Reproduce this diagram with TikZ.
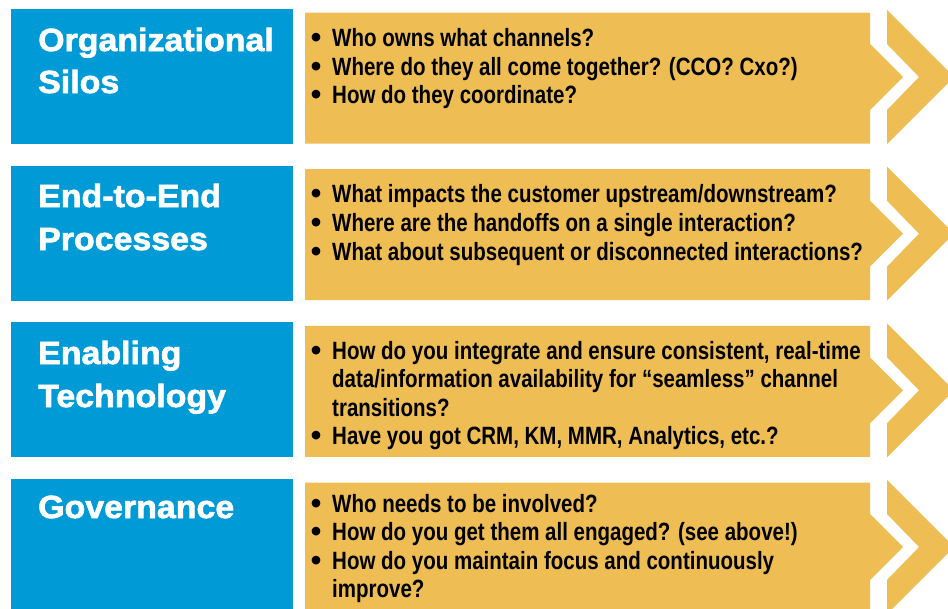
\documentclass[tikz,border=0pt]{standalone}
\usepackage{fontspec}
\setmainfont{Liberation Sans}
\newfontfamily\headfont[FakeStretch=1.06,FakeBold=2]{Liberation Sans}
\newfontfamily\itemfont[FakeStretch=0.82]{Liberation Sans}
\definecolor{panelblue}{HTML}{009BD7}
\definecolor{panelgold}{HTML}{EEBD53}
\tikzset{
  head/.style={font=\headfont\bfseries\fontsize{32}{42}\selectfont, text=white, anchor=base west, inner sep=0pt},
  item/.style={font=\itemfont\bfseries\fontsize{25}{29}\selectfont, text=black, anchor=base west, inner sep=0pt},
  dot/.style={font=\bfseries\fontsize{30}{29}\selectfont, text=black, anchor=base, inner sep=0pt},
  bluepanel/.style={fill=panelblue},
  goldpanel/.style={fill=panelgold}
}
\begin{document}
\begin{tikzpicture}[x=1pt,y=-1pt]
\useasboundingbox (0,0) rectangle (948,608);
\clip (0,0) rectangle (948,608);

% four bands: blue title box, gold arrow box, gold chevron
\foreach \cy in {77,233.7,390.3,547}{
  \fill[bluepanel] (11,\cy-68) rectangle (293,\cy+67);
  \fill[goldpanel] (305,\cy-64.5) -- (870,\cy-64.5) -- (870,\cy-33) -- (903,\cy)
     -- (870,\cy+33) -- (870,\cy+66.5) -- (305,\cy+66.5) -- cycle;
  \fill[goldpanel] (887,\cy-67) -- (954,\cy) -- (887,\cy+67) -- (887,\cy+33)
     -- (919,\cy) -- (887,\cy-33) -- cycle;
}

% titles
\node[head] (t1a) at (38,51) {Organizational};
\node[head] (t1b) at (38,93) {Silos};
\node[head] (t2a) at (38,207) {End-to-End};
\node[head] (t2b) at (38,250) {Processes};
\node[head] (t3a) at (38,364) {Enabling};
\node[head] (t3b) at (38,407) {Technology};
\node[head] (t4a) at (38,518) {Governance};

% questions
\node[dot] (d1a) at (316,47) {•};
\node[item] (q1a) at (332,46) {Who owns what channels?};
\node[dot] (d1b) at (316,76) {•};
\node[item] (q1b) at (332,75) {Where do they all come together? (CCO? Cxo?)};
\node[dot] (d1c) at (316,104.5) {•};
\node[item] (q1c) at (332,103.5) {How do they coordinate?};

\node[dot] (d2a) at (316,203) {•};
\node[item] (q2a) at (332,202) {What impacts the customer upstream/downstream?};
\node[dot] (d2b) at (316,232) {•};
\node[item] (q2b) at (332,231) {Where are the handoffs on a single interaction?};
\node[dot] (d2c) at (316,261) {•};
\node[item] (q2c) at (332,260) {What about subsequent or disconnected interactions?};

\node[dot] (d3a) at (316,360) {•};
\node[item] (q3a) at (332,359) {How do you integrate and ensure consistent, real-time};
\node[item] (q3b) at (332,387.5) {data/information availability for “seamless” channel};
\node[item] (q3c) at (332,416) {transitions?};
\node[dot] (d3d) at (316,445) {•};
\node[item] (q3d) at (332,444) {Have you got CRM, KM, MMR, Analytics, etc.?};

\node[dot] (d4a) at (316,513) {•};
\node[item] (q4a) at (332,512) {Who needs to be involved?};
\node[dot] (d4b) at (316,541.5) {•};
\node[item] (q4b) at (332,540.5) {How do you get them all engaged? (see above!)};
\node[dot] (d4c) at (316,570) {•};
\node[item] (q4c) at (332,569) {How do you maintain focus and continuously};
\node[item] (q4d) at (332,597.5) {improve?};
\end{tikzpicture}
\end{document}
